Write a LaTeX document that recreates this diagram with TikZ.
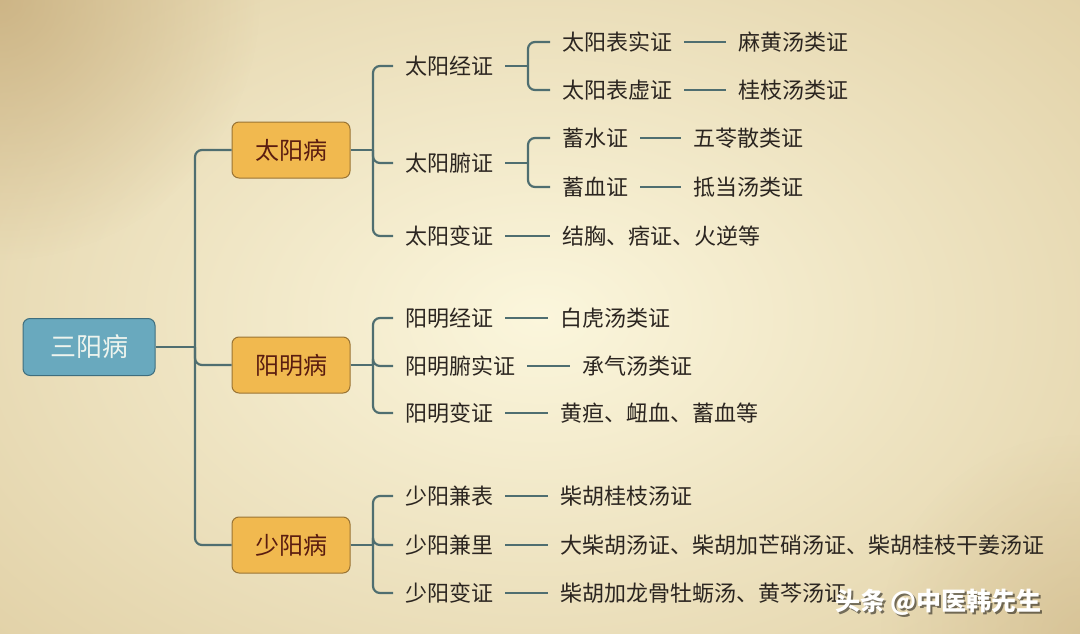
\documentclass[tikz,border=0pt]{standalone}
\usepackage{fontspec}
\setmainfont{Noto Sans CJK SC}
\usetikzlibrary{fadings}
\tikzfading[name=cornerfade,inner color=transparent!0,outer color=transparent!100]
\definecolor{bglight}{HTML}{FBF6DC}
\definecolor{bgdark}{HTML}{E0CFA4}
\definecolor{bgcorner}{HTML}{C4A978}
\definecolor{linec}{HTML}{4F6E70}
\definecolor{txt}{HTML}{2B2520}
\definecolor{orfill}{HTML}{F1B94F}
\definecolor{ordraw}{HTML}{9A7434}
\definecolor{ortext}{HTML}{5A1C10}
\definecolor{blfill}{HTML}{69A9BE}
\definecolor{bldraw}{HTML}{3F6E7E}
\definecolor{bltext}{HTML}{EEF4EE}
\begin{document}
\begin{tikzpicture}[x=1pt,y=-1pt,
  conn/.style={draw=linec,line width=2.2pt,rounded corners=7pt},
  lbl/.style={anchor=west,inner xsep=12pt,inner ysep=3pt,text=txt,font=\fontsize{22}{25}\selectfont},
  catbox/.style={draw=ordraw,line width=1pt,fill=orfill,rounded corners=7pt,minimum width=118pt,minimum height=56pt,text=ortext,font=\fontsize{24}{27}\selectfont},
  rootbox/.style={draw=bldraw,line width=1pt,fill=blfill,rounded corners=7pt,minimum width=132pt,minimum height=57pt,text=bltext,font=\fontsize{26}{29}\selectfont}]
\useasboundingbox (0,0) rectangle (1080,634);
\fill[bgdark] (0,0) rectangle (1080,634);
\shade[inner color=bglight,outer color=bgdark] (-250,-200) rectangle (1330,834);
\begin{scope}
\clip (0,0) rectangle (1080,634);
\fill[bgcorner,path fading=cornerfade,opacity=0.7] (0,0) circle (260pt);
\fill[bgcorner,path fading=cornerfade,opacity=0.35] (1080,634) circle (200pt);
\end{scope}
% root and categories
\node[rootbox] (root) at (89,347) {三阳病};
\node[catbox] (ty) at (291,150) {太阳病};
\node[catbox] (ym) at (291,365) {阳明病};
\node[catbox] (sy) at (291,545) {少阳病};
\coordinate (t1) at (195,347);
\draw[conn] (root.east) -- (t1);
\draw[conn] (t1) |- (ty.west);
\draw[conn] (t1) |- (ym.west);
\draw[conn] (t1) |- (sy.west);
% taiyang
\node[lbl] (tj) at (393,66) {太阳经证};
\node[lbl] (tf) at (393,163) {太阳腑证};
\node[lbl] (tb) at (393,236) {太阳变证};
\coordinate (a1) at (373,150);
\draw[conn] (ty.east) -- (a1);
\draw[conn] (a1) |- (tj.west);
\draw[conn] (a1) |- (tf.west);
\draw[conn] (a1) |- (tb.west);
\node[lbl] (tbs) at (550,42) {太阳表实证};
\node[lbl] (tbx) at (550,90) {太阳表虚证};
\node[lbl] (mh) at (726,42) {麻黄汤类证};
\node[lbl] (gz) at (726,90) {桂枝汤类证};
\coordinate (b1) at (528,66);
\draw[conn] (tj.east) -- (b1);
\draw[conn] (b1) |- (tbs.west);
\draw[conn] (b1) |- (tbx.west);
\draw[conn] (tbs.east) -- (mh.west);
\draw[conn] (tbx.east) -- (gz.west);
\node[lbl] (xs) at (550,138) {蓄水证};
\node[lbl] (xx) at (550,187) {蓄血证};
\node[lbl] (wl) at (681,138) {五苓散类证};
\node[lbl] (dd) at (681,187) {抵当汤类证};
\coordinate (b2) at (528,163);
\draw[conn] (tf.east) -- (b2);
\draw[conn] (b2) |- (xs.west);
\draw[conn] (b2) |- (xx.west);
\draw[conn] (xs.east) -- (wl.west);
\draw[conn] (xx.east) -- (dd.west);
\node[lbl] (jx) at (550,236) {结胸、痞证、火逆等};
\draw[conn] (tb.east) -- (jx.west);
% yangming
\node[lbl] (yj) at (393,318) {阳明经证};
\node[lbl] (yf) at (393,366) {阳明腑实证};
\node[lbl] (yb) at (393,413) {阳明变证};
\coordinate (a2) at (373,365);
\draw[conn] (ym.east) -- (a2);
\draw[conn] (a2) |- (yj.west);
\draw[conn] (a2) |- (yf.west);
\draw[conn] (a2) |- (yb.west);
\node[lbl] (bh) at (548,318) {白虎汤类证};
\node[lbl] (cq) at (570,366) {承气汤类证};
\node[lbl] (hd) at (548,413) {黄疸、衄血、蓄血等};
\draw[conn] (yj.east) -- (bh.west);
\draw[conn] (yf.east) -- (cq.west);
\draw[conn] (yb.east) -- (hd.west);
% shaoyang
\node[lbl] (sb) at (393,496) {少阳兼表};
\node[lbl] (sl) at (393,545) {少阳兼里};
\node[lbl] (sv) at (393,593) {少阳变证};
\coordinate (a3) at (373,545);
\draw[conn] (sy.east) -- (a3);
\draw[conn] (a3) |- (sb.west);
\draw[conn] (a3) |- (sl.west);
\draw[conn] (a3) |- (sv.west);
\node[lbl] (cg) at (548,496) {柴胡桂枝汤证};
\node[lbl] (dc) at (548,545) {大柴胡汤证、柴胡加芒硝汤证、柴胡桂枝干姜汤证};
\node[lbl] (cl) at (548,593) {柴胡加龙骨牡蛎汤、黄芩汤证};
\draw[conn] (sb.east) -- (cg.west);
\draw[conn] (sl.east) -- (dc.west);
\draw[conn] (sv.east) -- (cl.west);
% watermark
\node[anchor=west,inner sep=0pt,text=black,opacity=0.5,font=\bfseries\fontsize{25}{28}\selectfont] (wms) at (837,604) {头条 @中医韩先生};
\node[anchor=west,inner sep=0pt,text=white,font=\bfseries\fontsize{25}{28}\selectfont] (wm) at (835,602) {头条 @中医韩先生};
\end{tikzpicture}
\end{document}
